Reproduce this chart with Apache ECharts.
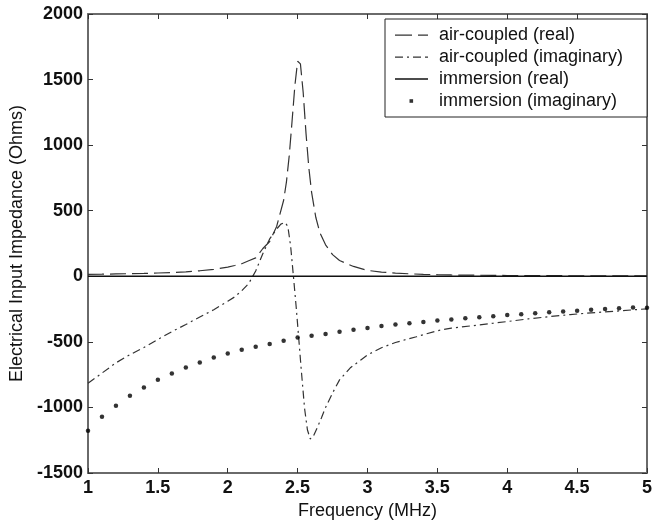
<!DOCTYPE html>
<html>
<head>
<meta charset="utf-8">
<script src="https://cdn.jsdelivr.net/npm/echarts@6/dist/echarts.min.js"></script>
<style>
html,body{margin:0;padding:0;background:#fff;}
#c{width:655px;height:526px;}
</style>
</head>
<body>
<div id="c"></div>
<script>
// ---- data ----
var airRealFreq = [1.0,1.1,1.2,1.3,1.4,1.5,1.6,1.7,1.8,1.9,2.0,2.05,2.1,2.15,2.2,2.25,2.3,2.35,2.4,2.42,2.44,2.46,2.48,2.5,2.51,2.52,2.54,2.56,2.58,2.6,2.63,2.66,2.7,2.75,2.8,2.9,3.0,3.1,3.2,3.3,3.4,3.5,3.6,3.7,3.8,3.9,4.0,4.5,5.0];
var airRealVal  = [15,16,18,20,22,25,29,34,42,53,70,82,96,118,140,210,265,380,580,720,920,1180,1450,1640,1650,1620,1400,1090,830,640,450,330,240,165,120,75,45,32,24,19,15,12,10,9,8,7,6,4,3];

var airImagFreq = [1.0,1.1,1.2,1.3,1.4,1.5,1.6,1.7,1.8,1.9,2.0,2.05,2.1,2.15,2.2,2.25,2.3,2.35,2.38,2.41,2.43,2.45,2.47,2.49,2.51,2.525,2.55,2.57,2.59,2.61,2.64,2.67,2.7,2.75,2.8,2.88,2.95,3.0,3.1,3.2,3.3,3.35,3.5,3.6,3.75,3.9,4.0,4.15,4.3,4.45,4.6,4.8,5.0];
var airImagVal  = [-815,-738,-660,-598,-543,-482,-422,-368,-310,-255,-190,-157,-110,-55,40,170,285,360,398,410,380,230,0,-238,-500,-700,-1010,-1170,-1240,-1225,-1155,-1080,-1000,-890,-790,-695,-640,-600,-545,-505,-475,-461,-415,-395,-377,-358,-345,-325,-308,-292,-279,-264,-248];

var immRealFreq = [1.0,2.0,3.0,4.0,5.0];
var immRealVal  = [0,0,0,0,0];

var immImagFreq = [1.0,1.1,1.2,1.3,1.4,1.5,1.6,1.7,1.8,1.9,2.0,2.1,2.2,2.3,2.4,2.5,2.6,2.7,2.8,2.9,3.0,3.1,3.2,3.3,3.4,3.5,3.6,3.7,3.8,3.9,4.0,4.1,4.2,4.3,4.4,4.5,4.6,4.7,4.8,4.9,5.0];
var immImagVal  = [-1177,-1071,-987,-911,-848,-789,-741,-695,-657,-619,-589,-561,-538,-517,-492,-467,-454,-441,-423,-408,-395,-380,-368,-358,-348,-338,-329,-320,-312,-304,-296,-289,-282,-275,-268,-262,-256,-250,-244,-238,-240];

var seriesNames = ['air-coupled (real)','air-coupled (imaginary)','immersion (real)','immersion (imaginary)'];
var xTitle = 'Frequency (MHz)';
var yTitle = 'Electrical Input Impedance (Ohms)';

function pairs(xs, ys){ return xs.map(function(x,i){ return [x, ys[i]]; }); }

var FONT = 'Liberation Sans, Arial, sans-serif';
var AXIS_COLOR = '#6a6a6a';
var plain = function(v){ return String(v); };

var iconDash    = 'path://M0,0M33,14M0,6.4h17v1.3h-17z M23,6.4h10v1.3h-10z';
var iconDashDot = 'path://M0,0M33,14M0,6.4h8v1.3h-8z M12,6.4h2v1.3h-2z M18,6.4h8v1.3h-8z M30,6.4h3v1.3h-3z';
var iconSolid   = 'path://M0,0M33,14M0,6.3h33v1.5h-33z';
var iconDot     = 'path://M0,0M33,14M14.5,5.2h3.6v3.6h-3.6z';

var chart = echarts.init(document.getElementById('c'), null, {renderer:'canvas'});
chart.setOption({
  animation: false,
  backgroundColor: '#ffffff',
  grid: {left: 88, right: 2, top: 14, bottom: 53, containLabel: false},
  legend: {
    orient: 'vertical',
    left: 385, top: 19,
    padding: [7, 24, 7, 10],
    itemWidth: 33, itemHeight: 14, itemGap: 4,
    backgroundColor: '#fff',
    borderColor: '#222', borderWidth: 1,
    textStyle: {fontFamily: FONT, fontSize: 18, color: '#111', lineHeight: 18, padding: [0,0,0,6]},
    data: [
      {name: seriesNames[0], icon: iconDash, itemStyle: {color: '#333'}},
      {name: seriesNames[1], icon: iconDashDot, itemStyle: {color: '#333'}},
      {name: seriesNames[2], icon: iconSolid, itemStyle: {color: '#111'}},
      {name: seriesNames[3], icon: iconDot, itemStyle: {color: '#000'}}
    ]
  },
  xAxis: [{
    type: 'value', min: 1, max: 5, interval: 0.5, position: 'bottom',
    name: xTitle, nameLocation: 'middle', nameGap: 24,
    nameTextStyle: {fontFamily: FONT, fontSize: 18, color: '#111'},
    axisLine: {show: true, onZero: false, lineStyle: {color: AXIS_COLOR, width: 2}},
    axisTick: {show: true, inside: true, length: 5, lineStyle: {color: '#333', width: 1}},
    axisLabel: {fontFamily: FONT, fontSize: 18, fontWeight: 'bold', color: '#111', margin: 6, formatter: plain},
    splitLine: {show: false}
  },{
    type: 'value', min: 1, max: 5, interval: 0.5, position: 'top',
    axisLine: {show: true, onZero: false, lineStyle: {color: AXIS_COLOR, width: 2}},
    axisTick: {show: true, inside: true, length: 5, lineStyle: {color: '#333', width: 1}},
    axisLabel: {show: false},
    splitLine: {show: false}
  }],
  yAxis: [{
    type: 'value', min: -1500, max: 2000, interval: 500, position: 'left',
    name: yTitle, nameLocation: 'middle', nameGap: 58,
    nameTextStyle: {fontFamily: FONT, fontSize: 18, color: '#111'},
    axisLine: {show: true, onZero: false, lineStyle: {color: AXIS_COLOR, width: 2}},
    axisTick: {show: true, inside: true, length: 5, lineStyle: {color: '#333', width: 1}},
    axisLabel: {fontFamily: FONT, fontSize: 18, fontWeight: 'bold', color: '#111', margin: 5, formatter: plain},
    splitLine: {show: false}
  },{
    type: 'value', min: -1500, max: 2000, interval: 500, position: 'right',
    axisLine: {show: true, onZero: false, lineStyle: {color: AXIS_COLOR, width: 2}},
    axisTick: {show: true, inside: true, length: 5, lineStyle: {color: '#333', width: 1}},
    axisLabel: {show: false},
    splitLine: {show: false}
  }],
  series: [
    {
      name: seriesNames[0], type: 'line', symbol: 'none', smooth: false,
      data: pairs(airRealFreq, airRealVal),
      lineStyle: {color: '#333', width: 1.2, type: [16, 6]},
      itemStyle: {color: '#333'}, z: 3
    },
    {
      name: seriesNames[1], type: 'line', symbol: 'none', smooth: false,
      data: pairs(airImagFreq, airImagVal),
      lineStyle: {color: '#333', width: 1.2, type: [8, 4, 2, 4]},
      itemStyle: {color: '#333'}, z: 3
    },
    {
      name: seriesNames[2], type: 'line', symbol: 'none',
      data: pairs(immRealFreq, immRealVal),
      lineStyle: {color: '#111', width: 1.5, type: 'solid'},
      itemStyle: {color: '#111'}, z: 4
    },
    {
      name: seriesNames[3], type: 'scatter', symbol: 'circle', symbolSize: 4.5,
      data: pairs(immImagFreq, immImagVal),
      itemStyle: {color: '#000'}, z: 5
    }
  ]
});
</script>
</body>
</html>
